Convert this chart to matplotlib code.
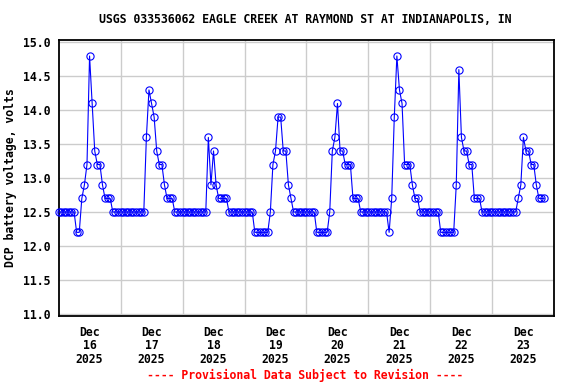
import numpy as np
import matplotlib
matplotlib.use("Agg")
import matplotlib.pyplot as plt

title = "USGS 033536062 EAGLE CREEK AT RAYMOND ST AT INDIANAPOLIS, IN"
ylabel = "DCP battery voltage, volts"
footer = "---- Provisional Data Subject to Revision ----"

start_time = np.datetime64("2025-12-16T00:00")

# Hourly DCP battery voltage readings, Dec 16 00:00 onward
dec16 = [12.5, 12.5, 12.5, 12.5, 12.5, 12.5, 12.5, 12.2, 12.2, 12.7, 12.9, 13.2,
         14.8, 14.1, 13.4, 13.2, 13.2, 12.9, 12.7, 12.7, 12.7, 12.5, 12.5, 12.5]
dec17 = [12.5, 12.5, 12.5, 12.5, 12.5, 12.5, 12.5, 12.5, 12.5, 12.5, 13.6, 14.3,
         14.1, 13.9, 13.4, 13.2, 13.2, 12.9, 12.7, 12.7, 12.7, 12.5, 12.5, 12.5]
dec18 = [12.5, 12.5, 12.5, 12.5, 12.5, 12.5, 12.5, 12.5, 12.5, 12.5, 13.6, 12.9,
         13.4, 12.9, 12.7, 12.7, 12.7, 12.7, 12.5, 12.5, 12.5, 12.5, 12.5, 12.5]
dec19 = [12.5, 12.5, 12.5, 12.5, 12.2, 12.2, 12.2, 12.2, 12.2, 12.2, 12.5, 13.2,
         13.4, 13.9, 13.9, 13.4, 13.4, 12.9, 12.7, 12.5, 12.5, 12.5, 12.5, 12.5]
dec20 = [12.5, 12.5, 12.5, 12.5, 12.2, 12.2, 12.2, 12.2, 12.2, 12.5, 13.4, 13.6,
         14.1, 13.4, 13.4, 13.2, 13.2, 13.2, 12.7, 12.7, 12.7, 12.5, 12.5, 12.5]
dec21 = [12.5, 12.5, 12.5, 12.5, 12.5, 12.5, 12.5, 12.5, 12.2, 12.7, 13.9, 14.8,
         14.3, 14.1, 13.2, 13.2, 13.2, 12.9, 12.7, 12.7, 12.5, 12.5, 12.5, 12.5]
dec22 = [12.5, 12.5, 12.5, 12.5, 12.2, 12.2, 12.2, 12.2, 12.2, 12.2, 12.9, 14.6,
         13.6, 13.4, 13.4, 13.2, 13.2, 12.7, 12.7, 12.7, 12.5, 12.5, 12.5, 12.5]
dec23 = [12.5, 12.5, 12.5, 12.5, 12.5, 12.5, 12.5, 12.5, 12.5, 12.5, 12.7, 12.9,
         13.6, 13.4, 13.4, 13.2, 13.2, 12.9, 12.7, 12.7, 12.7]

voltage = dec16 + dec17 + dec18 + dec19 + dec20 + dec21 + dec22 + dec23

tick_dates = ["2025-12-16T12:00", "2025-12-17T12:00", "2025-12-18T12:00", "2025-12-19T12:00",
              "2025-12-20T12:00", "2025-12-21T12:00", "2025-12-22T12:00", "2025-12-23T12:00"]
tick_labels = ["Dec\n16\n2025", "Dec\n17\n2025", "Dec\n18\n2025", "Dec\n19\n2025",
               "Dec\n20\n2025", "Dec\n21\n2025", "Dec\n22\n2025", "Dec\n23\n2025"]
grid_dates = ["2025-12-17", "2025-12-18", "2025-12-19", "2025-12-20",
              "2025-12-21", "2025-12-22", "2025-12-23"]
y_ticks = [11.0, 11.5, 12.0, 12.5, 13.0, 13.5, 14.0, 14.5, 15.0]


def to_dt(s):
    return np.datetime64(s).astype("datetime64[s]").astype(object)


times = start_time + np.arange(len(voltage)) * np.timedelta64(1, "h")
times = times.astype("datetime64[s]").astype(object)

FONT = "DejaVu Sans Mono"
FS = 8.3

fig = plt.figure(figsize=(5.76, 3.84), dpi=100)
ax = fig.add_axes([0.1017, 0.1758, 0.8608, 0.7208])

ax.plot(times, voltage, color="#0000ff", lw=0.8, marker="o", ms=5.2,
        mfc="none", mec="#0000ff", mew=0.8, zorder=3, clip_on=False)

ax.set_xlim(to_dt("2025-12-16T00:00"), to_dt("2025-12-24T00:00"))
ax.set_ylim(10.96, 15.04)

ax.set_xticks([to_dt(d) for d in tick_dates])
ax.set_xticklabels(tick_labels, fontfamily=FONT, fontweight="bold", fontsize=FS,
                   linespacing=1.02)
ax.set_xticks([to_dt(d) for d in grid_dates], minor=True)
ax.set_yticks(y_ticks)
ax.set_yticklabels([f"{v:.1f}" for v in y_ticks], fontfamily=FONT, fontweight="bold",
                   fontsize=FS)

ax.tick_params(axis="both", which="both", length=0)
ax.tick_params(axis="x", pad=7)
ax.tick_params(axis="y", pad=6)

ax.grid(False)
ax.xaxis.grid(True, which="minor", color="#cccccc", lw=1.0)
ax.yaxis.grid(True, which="major", color="#cccccc", lw=1.0)
ax.set_axisbelow(True)

for s in ax.spines.values():
    s.set_linewidth(1.3)
    s.set_color("black")

ax.set_ylabel(ylabel, fontfamily=FONT, fontweight="bold", fontsize=FS, labelpad=4)

fig.text(0.5 + 0.03, 0.95, title, ha="center", va="center", fontfamily=FONT,
         fontweight="bold", fontsize=FS)
fig.text(0.5 + 0.03, 0.023, footer, ha="center", va="center", fontfamily=FONT,
         fontweight="bold", fontsize=FS, color="#ff0000")

fig.savefig("out.png", dpi=100)
